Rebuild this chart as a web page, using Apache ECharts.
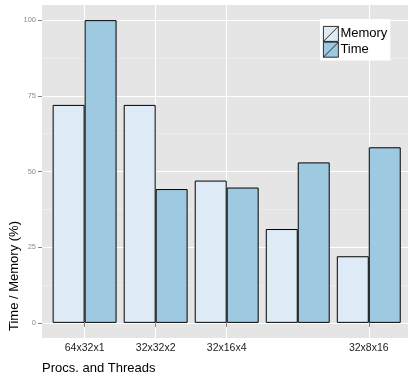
<!DOCTYPE html>
<html><head><meta charset="utf-8">
<script src="https://cdn.jsdelivr.net/npm/echarts@6/dist/echarts.min.js"></script>
<style>html,body{margin:0;padding:0;background:#fff}#c{width:408px;height:376px}</style>
</head><body><div id="c"></div>
<script>
const categories = ['64x32x1', '32x32x2', '32x16x4', '', '32x8x16'];
const seriesNames = ['Memory', 'Time'];
const memory = [72, 72, 47, 31, 22];
const time = [100, 44.2, 44.7, 53, 58];
const yTicks = [0, 25, 50, 75, 100];
const yMinor = [12.5, 37.5, 62.5, 87.5];
const colors = ['#DEEBF7', '#9ECAE1'];

const FONT = 'Liberation Sans, Arial, Helvetica, sans-serif';
const xPos = categories.map((c, i) => i + 1);
const labeledX = xPos.filter((p, i) => categories[i] !== '');
const values = [memory, time];

const chart = echarts.init(document.getElementById('c'), null, {renderer: 'canvas'});
chart.setOption({
  animation: false,
  backgroundColor: '#fff',
  textStyle: {fontFamily: FONT},
  grid: {left: 42, top: 5, width: 369.4, height: 333, show: true, backgroundColor: '#E5E5E5', borderWidth: 0, outerBoundsMode: 'none', containLabel: false},
  title: {text: 'Procs. and Threads', left: 42, top: 362, padding: 0,
    textStyle: {fontFamily: FONT, fontSize: 13, fontWeight: 'normal', color: '#000'}},
  graphic: [{type: 'text', x: 14, y: 276, rotation: Math.PI / 2,
    style: {text: 'Time / Memory (%)', font: '13px ' + FONT, fill: '#000', align: 'center', verticalAlign: 'middle'}}],
  legend: {orient: 'vertical', left: 320, top: 19, backgroundColor: '#fff', padding: [7, 3, 3, 3],
    itemWidth: 15, itemHeight: 15, itemGap: 0,
    icon: 'path://M0,0L15,0L15,15L0,15Z M0,15L15,0',
    itemStyle: {borderColor: '#000', borderWidth: 0.8},
    textStyle: {fontFamily: FONT, fontSize: 13, color: '#000', padding: [0, 0, 0, -3]},
    data: seriesNames.map((n, i) => ({name: n, itemStyle: {color: colors[i], borderColor: '#000', borderWidth: 0.8}}))},
  xAxis: {type: 'value', min: 0.4, max: 5.6,
    axisLine: {show: false},
    axisTick: {customValues: labeledX, length: 4, lineStyle: {color: '#7f7f7f', width: 1}},
    axisLabel: {customValues: labeledX, formatter: v => categories[Math.round(v) - 1], color: '#222', fontSize: 10.5, margin: 5, fontFamily: FONT},
    splitLine: {show: true, lineStyle: {color: '#fff', width: 1}}},
  yAxis: [
    {type: 'value', min: -5, max: 105,
      axisLine: {show: false},
      axisTick: {show: true, customValues: yTicks, length: 4, lineStyle: {color: '#7f7f7f', width: 1}},
      axisLabel: {customValues: yTicks, color: '#8c8c8c', fontSize: 7.5, margin: 6, fontFamily: FONT},
      splitLine: {show: true, lineStyle: {color: '#fff', width: 1}}},
    {type: 'value', min: -5, max: 105, position: 'left',
      axisLine: {show: false},
      axisTick: {show: false, customValues: yMinor},
      axisLabel: {show: false, customValues: yMinor},
      splitLine: {show: true, lineStyle: {color: '#F2F2F2', width: 0.6}}}
  ],
  series: seriesNames.map((n, k) => ({
    type: 'bar', name: n, data: xPos.map((x, i) => [x, values[k][i]]),
    barGap: '0%', barCategoryGap: '10%',
    itemStyle: {color: colors[k], borderColor: '#000', borderWidth: 1}
  }))
});
</script></body></html>
